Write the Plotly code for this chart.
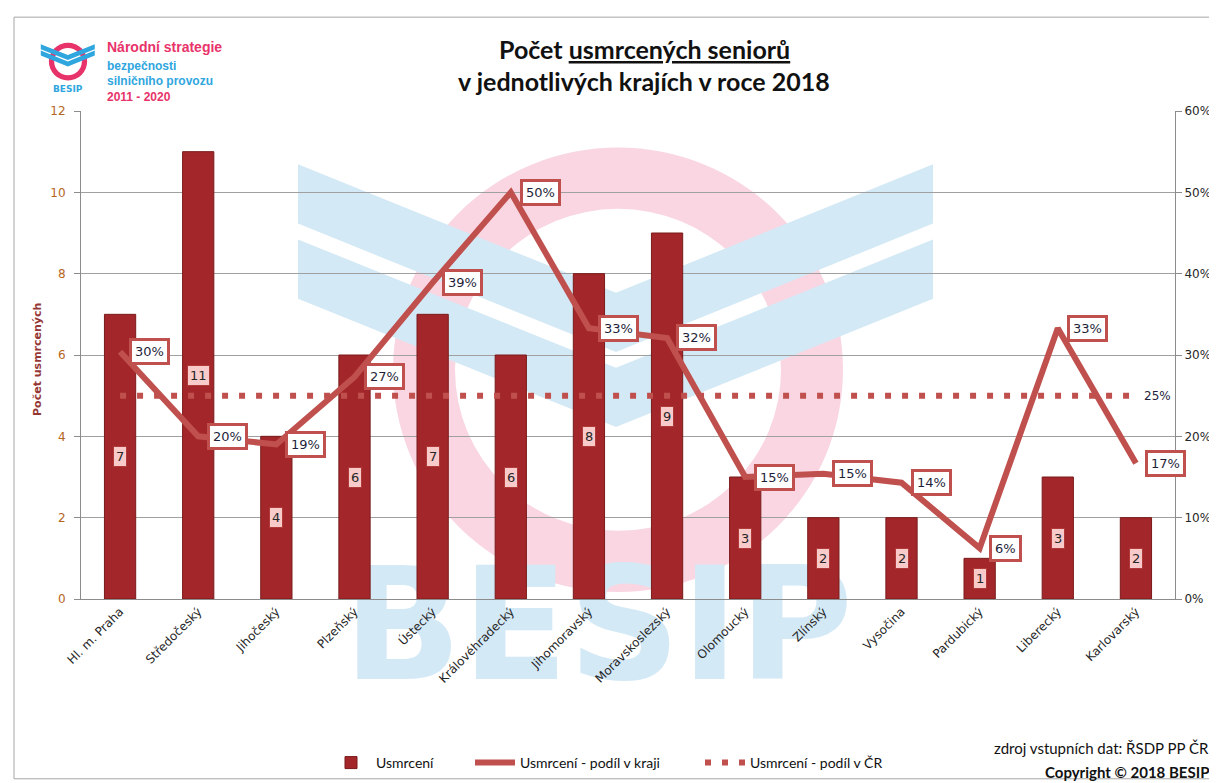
import plotly.graph_objects as go

# ---------------- data ----------------
regions = ["Hl. m. Praha", "Středočeský", "Jihočeský", "Plzeňský", "Ústecký",
           "Královéhradecký", "Jihomoravský", "Moravskoslezský", "Olomoucký",
           "Zlínský", "Vysočina", "Pardubický", "Liberecký", "Karlovarský"]
killed = [7, 11, 4, 6, 7, 6, 8, 9, 3, 2, 2, 1, 3, 2]
share_region = [0.304, 0.20, 0.19, 0.273, 0.389, 0.50, 0.333, 0.321,
                0.15, 0.154, 0.143, 0.0625, 0.333, 0.167]
share_cr = [0.25] * len(regions)
left_ticks = [0, 2, 4, 6, 8, 10, 12]
right_ticks = [0, 0.1, 0.2, 0.3, 0.4, 0.5, 0.6]

# ---------------- geometry helpers (pixel -> paper) ----------------
W, H = 1217, 783
L, R, T, B = 73, 50, 103, 186
PW, PH = W - L - R, H - T - B


def px(x):
    return (x - L) / PW


def py(y):
    return (H - B - y) / PH


PINK = "#f9d6e2"
BLUE = "#d4e9f6"
RED = "#c0504d"

shapes = []


def logo(cx, cy, s, pink, blue):
    ro, ri = 225 * s, 163 * s
    shapes.append(dict(type="circle", xref="paper", yref="paper", layer="below",
                       x0=px(cx - ro), x1=px(cx + ro), y0=py(cy + ro), y1=py(cy - ro),
                       fillcolor=pink, line=dict(width=0)))
    shapes.append(dict(type="circle", xref="paper", yref="paper", layer="below",
                       x0=px(cx - ri), x1=px(cx + ri), y0=py(cy + ri), y1=py(cy - ri),
                       fillcolor="white", line=dict(width=0)))
    for top in (-208, -132):
        pts = [(-320, top), (-2, top + 130), (315, top), (315, top + 60),
               (-2, top + 190), (-320, top + 60)]
        path = "M " + " L ".join(f"{px(cx + dx * s):.5f},{py(cy + dy * s):.5f}" for dx, dy in pts) + " Z"
        shapes.append(dict(type="path", xref="paper", yref="paper", layer="below",
                           path=path, fillcolor=blue, line=dict(width=0)))


logo(610, 365, 1.0, PINK, BLUE)
logo(60, 53, 0.085, "#e8336a", "#2fa6de")

shapes.append(dict(type="rect", xref="paper", yref="paper", layer="below",
                   x0=px(6), x1=px(1211), y0=py(779), y1=py(8),
                   line=dict(color="#a6a6a6", width=1), fillcolor="rgba(0,0,0,0)"))

fig = go.Figure()

# watermark text on a hidden base subplot (drawn beneath the chart);
# anchored inside the plot area and hanging below it
fig.add_trace(go.Scatter(
    x=[px(590)], y=[py(560)], mode="text", text=["<b>BESIP</b>"],
    textfont=dict(family="DejaVu Sans", size=156, color=BLUE),
    textposition="bottom center", showlegend=False, hoverinfo="skip",
    cliponaxis=False, xaxis="x", yaxis="y",
))

fig.add_trace(go.Bar(
    x=regions, y=killed, name="Usmrcení",
    marker=dict(color="#a3272a", line=dict(color="#7a1b1b", width=1)),
    width=0.4, xaxis="x2", yaxis="y2", legend="legend",
))
fig.add_trace(go.Scatter(
    x=regions, y=share_region, name="Usmrcení - podíl v kraji", mode="lines",
    line=dict(color=RED, width=6), xaxis="x2", yaxis="y3", legend="legend2",
))
fig.add_trace(go.Scatter(
    x=regions, y=share_cr, name="Usmrcení - podíl v ČR", mode="lines",
    line=dict(color=RED, width=6, dash="6px,11px"), xaxis="x2", yaxis="y3", legend="legend3",
))

annotations = []
for r, k in zip(regions, killed):
    annotations.append(dict(x=r, y=k / 2, xref="x2", yref="y2", text=str(k), showarrow=False,
                            font=dict(family="DejaVu Sans", size=13, color="#262626"),
                            bgcolor="#f9caca", bordercolor="#b03a38", borderwidth=1, borderpad=2))
for r, s in zip(regions, share_region):
    annotations.append(dict(x=r, y=s, xref="x2", yref="y3", text=f"{round(s * 100)}%",
                            showarrow=False, xanchor="left", yanchor="middle", xshift=9,
                            font=dict(family="DejaVu Sans", size=13, color="#1f1f3a"),
                            bgcolor="white", bordercolor=RED, borderwidth=3, borderpad=3))
annotations.append(dict(x=regions[-1], y=share_cr[-1], xref="x2", yref="y3",
                        text=f"{round(share_cr[-1] * 100)}%", showarrow=False,
                        xanchor="left", yanchor="middle", xshift=6,
                        font=dict(family="DejaVu Sans", size=12, color="#1f1f3a")))

annotations.append(dict(x=px(60), y=py(81), xref="paper", yref="paper", text="<b>BESIP</b>",
                        showarrow=False, font=dict(family="DejaVu Sans", size=9, color="#2fa6de"),
                        xanchor="center", yanchor="middle"))
for txt, y, size, col in [("Národní strategie", 38, 14, "#e8336a"),
                          ("bezpečnosti", 57, 12, "#2fa6de"),
                          ("silničního provozu", 73, 12, "#2fa6de"),
                          ("2011 - 2020", 89, 12, "#e8336a")]:
    annotations.append(dict(x=px(97), y=py(y), xref="paper", yref="paper", text=f"<b>{txt}</b>",
                            showarrow=False, xanchor="left", yanchor="middle",
                            font=dict(family="Liberation Sans", size=size, color=col)))

annotations.append(dict(x=px(636), y=py(40), xref="paper", yref="paper",
                        text="<b>Počet <span style='text-decoration:underline'>usmrcených seniorů</span></b>",
                        showarrow=False, xanchor="center", yanchor="middle",
                        font=dict(family="Lato", size=25, color="#111111")))
annotations.append(dict(x=px(636), y=py(73), xref="paper", yref="paper",
                        text="<b>v jednotlivých krajích v roce 2018</b>",
                        showarrow=False, xanchor="center", yanchor="middle",
                        font=dict(family="Lato", size=25, color="#111111")))

annotations.append(dict(x=px(30), y=py(355), xref="paper", yref="paper",
                        text="<b>Počet usmrcených</b>", textangle=-90, showarrow=False,
                        xanchor="center", yanchor="middle",
                        font=dict(family="DejaVu Sans", size=11, color="#953735")))

annotations.append(dict(x=px(1203), y=py(748), xref="paper", yref="paper",
                        text="zdroj vstupních dat: ŘSDP PP ČR", showarrow=False,
                        xanchor="right", yanchor="middle",
                        font=dict(family="Lato", size=15, color="#111111")))
annotations.append(dict(x=px(1203), y=py(772), xref="paper", yref="paper",
                        text="<b>Copyright © 2018 BESIP</b>", showarrow=False,
                        xanchor="right", yanchor="middle",
                        font=dict(family="Lato", size=15, color="#111111")))

hidden = dict(visible=False, showgrid=False, zeroline=False, fixedrange=True)
leg_font = dict(family="Lato", size=14, color="#111111")


def leg(x):
    return dict(orientation="h", x=px(x), y=py(763), xanchor="left", yanchor="middle",
                font=leg_font, bgcolor="rgba(0,0,0,0)", itemwidth=40)


fig.update_layout(
    width=W, height=H,
    margin=dict(l=L, r=R, t=T, b=B, pad=0),
    paper_bgcolor="white", plot_bgcolor="rgba(0,0,0,0)",
    shapes=shapes, annotations=annotations,
    xaxis=dict(range=[0, 1], domain=[0, 1], anchor="y", **hidden),
    yaxis=dict(range=[0, 1], domain=[0, 1], anchor="x", **hidden),
    xaxis2=dict(tickangle=-45, tickfont=dict(family="DejaVu Sans", size=12, color="#262626"),
                showgrid=False, showline=True, linecolor="#8c8c8c", ticks="",
                range=[-0.5, len(regions) - 0.5], domain=[0, 1], anchor="y2"),
    yaxis2=dict(range=[0, 12], tickvals=left_ticks, showgrid=True, gridcolor="#a0a0a0",
                gridwidth=1, showline=True, linecolor="#8c8c8c", ticks="outside",
                ticklen=6, tickcolor="#8c8c8c", zeroline=False, ticklabelstandoff=6,
                domain=[0, 1], anchor="x2",
                tickfont=dict(family="DejaVu Sans", size=12, color="#b5651d")),
    yaxis3=dict(range=[0, 0.6], tickvals=right_ticks, tickformat=".0%", overlaying="y2",
                anchor="x2", side="right", showgrid=False, showline=True, linecolor="#8c8c8c",
                ticks="outside", ticklen=6, tickcolor="#8c8c8c", zeroline=False,
                tickfont=dict(family="DejaVu Sans", size=12, color="#262626")),
    legend=leg(318),
    legend2=leg(462),
    legend3=leg(692),
    showlegend=True,
)

fig.write_html("out.html")
